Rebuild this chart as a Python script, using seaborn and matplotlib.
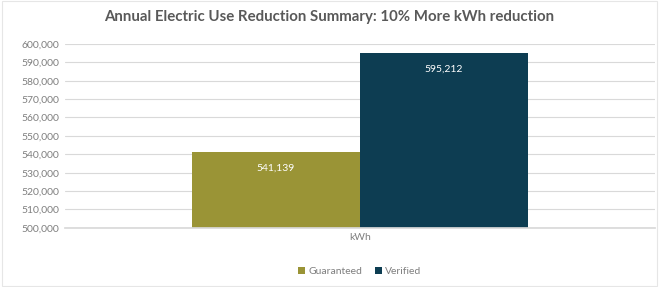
import numpy as np
import pandas as pd
import seaborn as sns
import matplotlib.pyplot as plt
from matplotlib.ticker import FuncFormatter

# Dados do gráfico
categorias = ['kWh']
series = ['Guaranteed', 'Verified']
valores = [541139, 595212]
cores = ['#9a9436', '#0d3d52']

df = pd.DataFrame({'categoria': categorias * len(series), 'serie': series, 'valor': valores})

sns.set_theme(style='white')
plt.rcParams['font.family'] = ['Lato', 'DejaVu Sans']

fig = plt.figure(figsize=(6.59, 2.87), dpi=100)
ax = fig.add_axes([0.0986, 0.206, 0.895, 0.641])

sns.barplot(data=df, x='categoria', y='valor', hue='serie', palette=cores,
            width=0.57, gap=0, saturation=1, linewidth=0, ax=ax, legend=True)

ax.set_ylim(500000, 600000)
ax.set_yticks(np.arange(500000, 600001, 10000))
ax.yaxis.set_major_formatter(FuncFormatter(lambda v, p: f'{int(v):,}'))
ax.set_xlim(-0.5, 0.5)
ax.grid(axis='y', color='#d9d9d9', linewidth=0.8)
ax.set_axisbelow(True)
for s in ['left', 'right', 'top']:
    ax.spines[s].set_visible(False)
ax.spines['bottom'].set_color('#d9d9d9')
ax.tick_params(axis='both', length=0, labelsize=7.5, labelcolor='#7f7f7f', pad=4)
ax.set_xlabel('')
ax.set_ylabel('')

# Rótulos dentro das barras
for cont in ax.containers:
    ax.bar_label(cont, labels=[f'{int(v):,}' for v in cont.datavalues],
                 padding=-15, color='white', fontsize=7.5)

ax.legend(loc='upper center', bbox_to_anchor=(0.5, -0.16), ncol=2, frameon=False,
          fontsize=7.5, handlelength=0.7, handleheight=0.7, handletextpad=0.3,
          columnspacing=1.2, labelcolor='#7f7f7f')

fig.suptitle('Annual Electric Use Reduction Summary: 10% More kWh reduction',
             x=0.5, y=0.965, fontsize=10.8, color='#595959', weight='bold')

fig.patches.append(plt.Rectangle((0.003, 0.003), 0.994, 0.994, transform=fig.transFigure,
                                 fill=False, edgecolor='#e6e6e6', linewidth=0.8))

plt.savefig('out.png', dpi=100)
